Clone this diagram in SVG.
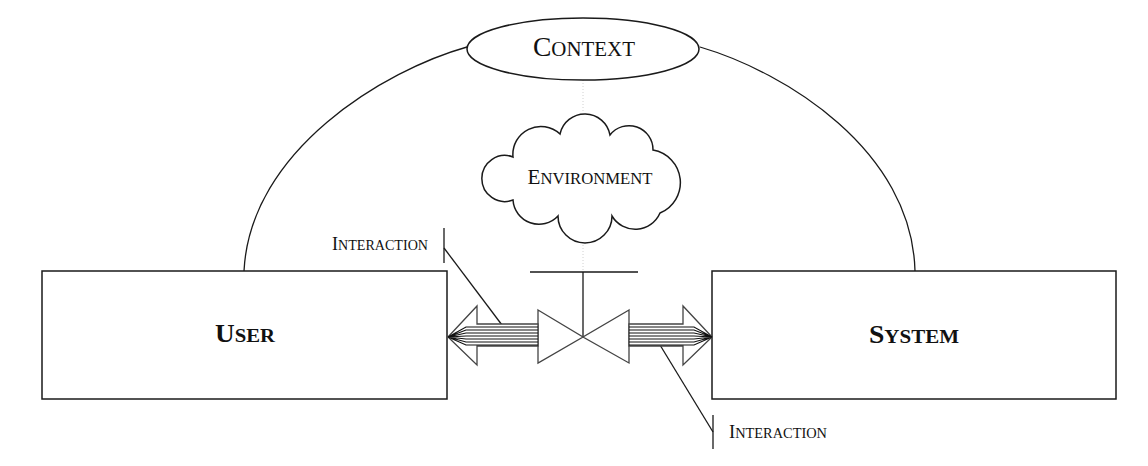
<svg xmlns="http://www.w3.org/2000/svg" width="1148" height="466" viewBox="0 0 1148 466">
<style>
.ln{fill:none;stroke:#1a1a1a;stroke-width:1.3}
.box{fill:#fff;stroke:#1a1a1a;stroke-width:1.5}
.arw{fill:#fff;stroke:#444;stroke-width:1.3;stroke-linejoin:miter}
.hatch{fill:none;stroke:#111;stroke-width:1.2}
.dot{fill:none;stroke:#d0d0d0;stroke-width:1;stroke-dasharray:1 2}
.t{font-family:"Liberation Serif","Times New Roman",serif;fill:#111}
.b{font-weight:bold}
</style>
<rect width="1148" height="466" fill="#fff"/>
<g id="connectors">
<path class="ln" d="M244,271 C250,150 385,70 467,47"/>
<path class="ln" d="M700,47 C785,72 912,150 915,271"/>
<path class="dot" d="M583,80 V113 M583,233 V271"/>
<path class="ln" d="M444,248 L508,333"/>
<path class="ln" d="M444,228 V263"/>
<path class="ln" d="M660,345 L713,432"/>
<path class="ln" d="M713,415 V449"/>
</g>
<g id="context">
<ellipse class="box" cx="583" cy="49" rx="116" ry="31" stroke-width="1.3"/>
<text class="t" x="584" y="56" text-anchor="middle" textLength="102" lengthAdjust="spacingAndGlyphs"><tspan font-size="27">C</tspan><tspan font-size="20.5">ONTEXT</tspan></text>
</g>
<g id="environment">
<path class="box" stroke-width="1.3" d="M513,157 A28,28 0 0 1 560,134 A25.5,25.5 0 0 1 610,135 A24,24 0 0 1 653,150 A33,33 0 0 1 660,213 A27,27 0 0 1 612,216 A26.4,26.4 0 0 1 558,216 A26,26 0 0 1 513,200 A23,23 0 1 1 513,157 Z"/>
<text class="t" x="590" y="184" text-anchor="middle" textLength="125" lengthAdjust="spacingAndGlyphs"><tspan font-size="21.6">E</tspan><tspan font-size="17">NVIRONMENT</tspan></text>
</g>
<g id="user">
<rect class="box" x="42" y="271" width="405" height="128"/>
<text class="t b" x="245" y="342" text-anchor="middle" textLength="60" lengthAdjust="spacingAndGlyphs"><tspan font-size="25">U</tspan><tspan font-size="19">SER</tspan></text>
</g>
<g id="system">
<rect class="box" x="712" y="271" width="404" height="128"/>
<text class="t b" x="914" y="343" text-anchor="middle" textLength="90" lengthAdjust="spacingAndGlyphs"><tspan font-size="25">S</tspan><tspan font-size="19">YSTEM</tspan></text>
</g>
<g id="valve">
<path class="ln" d="M530,272 H638 M583,272 V337"/>
<path class="arw" d="M538,310 L583,337 L538,363 Z M629,310 L583,337 L629,363 Z"/>
</g>
<g id="interaction-left">
<path class="arw" d="M448,337 L477,306 V324 H538 V346 H477 V365 Z"/>
<path class="hatch" d="M448,337 L466,327 H538 M448,337 L466,330 H538 M448,337 L466,333 H538 M448,337 L466,336 H538 M448,337 L466,339 H538 M448,337 L466,342 H538 M448,337 L466,345 H538"/>
</g>
<g id="interaction-right">
<path class="arw" d="M712,337 L683,306 V324 H629 V346 H683 V365 Z"/>
<path class="hatch" d="M712,337 L694,327 H629 M712,337 L694,330 H629 M712,337 L694,333 H629 M712,337 L694,336 H629 M712,337 L694,339 H629 M712,337 L694,342 H629 M712,337 L694,345 H629"/>
</g>
<g id="label-interaction-1">
<text class="t" x="332" y="250" textLength="96" lengthAdjust="spacingAndGlyphs"><tspan font-size="18">I</tspan><tspan font-size="14">NTERACTION</tspan></text>
</g>
<g id="label-interaction-2">
<text class="t" x="729" y="438" textLength="98" lengthAdjust="spacingAndGlyphs"><tspan font-size="18">I</tspan><tspan font-size="14">NTERACTION</tspan></text>
</g>
</svg>
